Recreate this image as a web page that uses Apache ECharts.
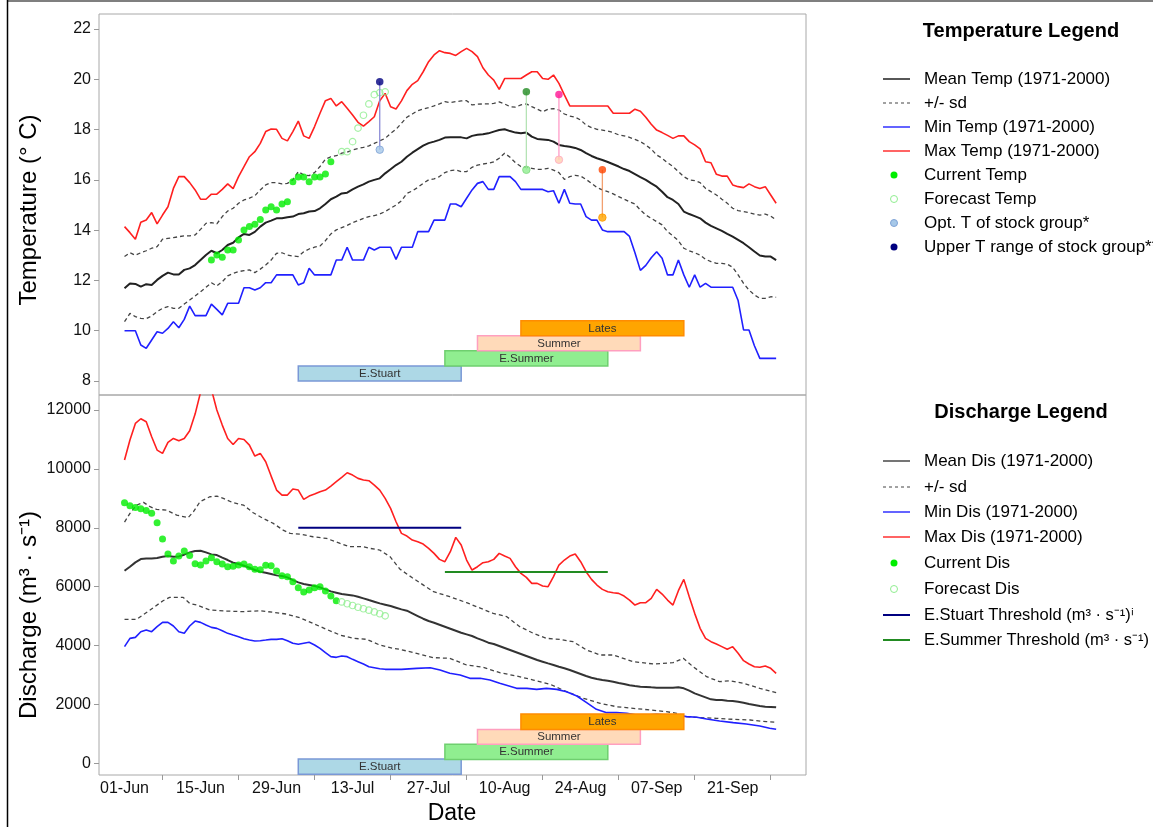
<!DOCTYPE html>
<html><head><meta charset="utf-8">
<script src="https://cdn.jsdelivr.net/npm/echarts@6/dist/echarts.min.js"></script>
<style>html,body{margin:0;padding:0;background:#fff}#c{width:1153px;height:827px}</style>
</head><body><div id="c"></div>
<script>
// ---------- axes / labels ----------
const dateLabels = ['01-Jun','15-Jun','29-Jun','13-Jul','27-Jul','10-Aug','24-Aug','07-Sep','21-Sep'];
const labelDays = [0,14,28,42,56,70,84,98,112];
const tickDays = [7,21,35,49,63,77,91,105,119];
const tempTicks = [8,10,12,14,16,18,20,22];
const disTicks = [0,2000,4000,6000,8000,10000,12000];

// ---------- temperature climatology (daily from 01-Jun, day 0..120) ----------
const tempMax = [14.14,13.90,13.64,14.31,14.40,14.70,14.25,14.60,14.93,15.66,16.13,16.13,15.89,15.60,15.23,15.23,15.43,15.43,15.62,15.84,15.65,16.13,16.53,16.92,17.12,17.45,17.92,18.02,18.01,17.65,17.55,17.92,18.34,17.75,17.65,18.12,18.65,19.15,19.24,18.94,19.11,18.85,18.58,18.29,18.14,18.32,18.51,19.15,19.44,18.91,18.82,19.14,
 19.55,19.8,19.95,20.3,20.7,20.97,21.14,21.06,21.03,20.95,21.1,21.23,21.1,20.9,20.46,20.17,19.97,19.6,20.03,20.03,20.03,20.03,20.17,20.3,20.3,20.03,20.0,20.17,19.84,19.38,18.94,18.94,18.94,18.94,18.94,18.94,18.94,18.94,18.65,18.65,18.65,18.65,18.81,18.73,18.49,18.21,17.98,17.88,17.77,17.65,17.75,17.75,17.52,17.39,17.23,16.72,16.68,16.22,16.15,16.15,15.8,15.73,15.69,15.84,15.73,15.66,15.73,15.40,15.07];
const tempMean = [11.69,11.88,11.86,11.75,11.85,11.82,12.02,12.18,12.31,12.24,12.24,12.42,12.48,12.61,12.81,13.01,13.18,13.08,13.21,13.41,13.50,13.71,13.85,13.81,13.93,14.14,14.30,14.38,14.47,14.47,14.51,14.54,14.64,14.67,14.74,14.76,14.87,15.04,15.23,15.33,15.46,15.49,15.62,15.73,15.82,15.93,16.00,16.06,16.26,16.42,16.59,16.72,
 16.92,17.08,17.22,17.36,17.46,17.52,17.59,17.68,17.69,17.69,17.69,17.65,17.75,17.79,17.81,17.85,17.92,17.98,18.01,17.94,17.88,17.85,17.88,17.72,17.63,17.61,17.59,17.52,17.39,17.35,17.32,17.27,17.19,17.06,16.95,16.86,16.79,16.71,16.62,16.53,16.43,16.35,16.23,16.11,16.00,15.86,15.73,15.53,15.31,15.20,15.04,14.74,14.64,14.56,14.47,14.30,14.17,14.07,13.97,13.85,13.74,13.61,13.48,13.32,13.15,12.99,12.95,12.95,12.81];
const tempUpper = [12.95,13.10,13.00,13.10,13.18,13.28,13.34,13.64,13.67,13.70,13.74,13.77,13.77,13.81,14.03,14.27,14.30,14.25,14.54,14.76,14.87,15.07,15.20,15.27,15.37,15.60,15.80,15.89,15.89,15.84,15.86,16.00,16.33,16.19,16.17,16.29,16.53,16.82,16.92,16.96,17.06,17.10,17.19,17.25,17.29,17.35,17.45,17.55,17.65,17.85,18.01,18.25,
 18.49,18.62,18.75,18.82,18.87,18.94,19.02,19.11,19.07,19.11,19.14,19.15,18.98,19.01,19.02,19.02,19.04,19.10,19.02,18.91,18.89,18.98,19.02,18.91,18.81,18.71,18.81,18.83,18.78,18.62,18.54,18.49,18.38,18.18,18.08,18.01,17.98,17.94,17.88,17.79,17.75,17.69,17.61,17.52,17.39,17.22,16.99,16.86,16.68,16.53,16.33,16.13,16.00,15.97,15.89,15.66,15.53,15.40,15.23,15.07,14.87,14.78,14.74,14.70,14.64,14.60,14.64,14.56,14.40];
const tempLower = [10.36,10.69,10.56,10.49,10.48,10.59,10.76,10.89,10.96,10.89,10.89,11.06,11.22,11.38,11.55,11.73,11.91,11.78,11.95,12.18,12.28,12.35,12.39,12.42,12.31,12.45,12.61,12.81,13.08,13.10,13.01,12.97,12.95,13.14,13.25,13.32,13.37,13.58,13.85,14.01,14.10,14.19,14.30,14.38,14.47,14.54,14.58,14.64,14.74,14.87,15.00,15.17,
 15.46,15.56,15.70,15.86,16.00,16.04,16.13,16.29,16.37,16.39,16.33,16.33,16.50,16.59,16.63,16.66,16.72,16.86,17.06,16.90,16.68,16.53,16.50,16.46,16.42,16.42,16.46,16.39,16.29,16.02,16.13,16.18,16.15,16.02,15.86,15.70,15.60,15.53,15.44,15.33,15.23,15.13,15.04,14.80,14.60,14.47,14.34,14.21,13.94,13.77,13.58,13.28,13.18,13.10,13.01,12.84,12.75,12.68,12.68,12.65,12.52,12.22,11.88,11.62,11.42,11.29,11.29,11.35,11.33];
const tempMin = [10.00,10.00,10.00,9.43,9.30,9.63,9.96,9.90,10.09,10.36,10.12,10.45,10.98,10.60,10.60,10.60,11.06,10.85,10.63,11.09,11.09,11.09,11.71,11.71,11.62,11.71,11.91,11.91,12.22,12.22,12.22,12.22,11.82,11.91,12.48,12.22,12.22,12.22,12.22,12.81,12.81,13.32,12.81,12.81,12.81,13.32,13.21,13.32,13.32,13.32,12.84,13.32,
 13.32,13.32,13.94,13.94,13.94,14.40,14.40,14.40,15.04,15.04,14.93,15.27,15.60,15.86,15.93,15.62,15.62,16.13,16.13,16.13,15.93,15.62,15.62,15.62,15.62,15.62,15.53,15.57,15.07,15.62,15.07,15.04,15.04,14.54,14.40,14.40,14.01,13.94,13.94,13.94,13.94,13.75,13.10,12.40,12.60,12.90,13.14,12.88,12.22,12.22,12.81,12.22,11.73,12.22,11.73,11.88,11.73,11.73,11.73,11.73,11.73,11.20,10.03,10.03,9.40,8.90,8.90,8.90,8.90];

// current / forecast temperature
const curTempStart = 16;
const curTemp = [12.81,13.01,12.92,13.21,13.21,13.61,14.01,14.14,14.23,14.42,14.80,14.93,14.80,15.04,15.13,15.92,16.11,16.11,15.92,16.11,16.11,16.23,16.72];
const fcTempStart = 40;
const fcTemp = [17.12,17.12,17.52,18.06,18.57,19.02,19.39,19.47,19.50];

// stock groups: name, run window (days), midpoint day, optimum T, upper T
const groups = ['E.Stuart','E.Summer','Summer','Lates'];
const groupStart = [32,59,65,73];
const groupEnd = [62,89,95,103];
const groupMid = [47,74,80,88];
const groupOptT = [17.2,16.4,16.8,14.5];
const groupUpperT = [19.9,19.5,19.4,16.4];
const tempBoxLo = [8.0,8.6,9.2,9.8];
const tempBoxHi = [8.6,9.2,9.8,10.4];
const disBoxLo = [-370,130,650,1150];
const disBoxHi = [150,650,1150,1675];

// ---------- discharge climatology ----------
const disMax = [10299,10978,11544,11703,11601,11092,10639,10525,10899,11034,10955,11034,11295,11861,12600,13100,12700,11997,11487,11034,10830,11034,11000,10808,10435,10525,10242,9755,9280,9110,9110,9314,9280,8963,9076,9144,9223,9280,9416,9563,9710,9869,9790,9677,9620,9597,9450,9280,8997,8658,8205,7809,
 7719,7583,7526,7447,7300,7130,6926,6847,7187,7673,7413,6904,6564,6677,6813,6847,6926,7130,7039,6960,6677,6451,6315,6111,6111,6021,5998,6338,6734,6904,7039,7107,6847,6507,6247,6054,5907,5828,5794,5772,5681,5545,5375,5455,5455,5602,5907,5749,5545,5375,5862,6247,5659,5093,4584,4245,4132,4052,3962,3871,3962,3735,3486,3373,3282,3260,3305,3225,3056];
const disMean = [6541,6677,6825,6938,6960,6960,6972,7017,7040,7017,7028,7085,7164,7209,7221,7164,7096,7073,6983,6904,6813,6767,6711,6643,6564,6507,6473,6428,6383,6360,6315,6224,6145,6088,6054,6020,5975,5907,5839,5794,5749,5726,5703,5658,5602,5545,5489,5432,5387,5342,5285,5228,
 5183,5093,5002,4911,4832,4776,4708,4640,4572,4504,4436,4380,4323,4244,4176,4097,4052,3984,3916,3848,3780,3712,3644,3576,3508,3452,3395,3339,3282,3226,3168,3100,3032,2964,2908,2863,2829,2806,2772,2727,2693,2648,2625,2603,2592,2580,2569,2569,2569,2569,2580,2546,2467,2377,2309,2241,2173,2150,2150,2128,2117,2094,2060,2015,1981,1947,1924,1913,1901];
const disUpper = [[0,8194],[1,8488],[2.2,8771],[3.5,8862],[4.7,8715],[5.9,8624],[7.7,8602],[9.6,8432],[11.7,8341],[12.7,8545],[13.9,8884],[15.7,9053],[17,9076],[18.2,8997],[20,8850],[21.9,8771],[23.7,8511],[25.5,8318],[27.4,8148],[29.2,7921],[30.5,7808],[32.3,7786],[34.7,7695],[37.2,7639],[39.7,7469],[41.5,7356],[44,7356],[45.2,7300],[47,7243],[48.9,7017],[50.7,6600],[53,6300],[56.9,5829],[59.9,5659],[63,5455],[67.9,5093],[70.4,4980],[72.8,4640],[75.3,4414],[77.7,4244],[80.2,4210],[82.6,4131],[85.1,3848],[87.6,3678],[90,3678],[93.7,3452],[97.4,3373],[101,3418],[102.9,3565],[104.7,3282],[107.2,2942],[109.6,2772],[111.5,2806],[114,2716],[117,2546],[120,2399]];
const disLower = [[0,4888],[2.2,4888],[4.7,5205],[7.1,5522],[8.3,5635],[10.8,5635],[12,5432],[13.3,5375],[15.7,5205],[18.8,5172],[21.9,5150],[24.9,5183],[27.4,5127],[29.8,5070],[32.3,4945],[34.7,4753],[37.2,4549],[39.7,4357],[42.1,4244],[44.6,4210],[47,4018],[49.5,3905],[50.7,3871],[53.8,3735],[56.9,3588],[59.9,3565],[63,3339],[66.1,3260],[69.1,3078],[72.2,2965],[75.3,2829],[78.4,2682],[81.4,2433],[84.5,2207],[87.6,2037],[90.6,1923],[93.7,1867],[96.8,1811],[99.8,1754],[101.7,1698],[103.5,1585],[106,1551],[109,1528],[112.1,1494],[115.2,1471],[118.2,1415],[120,1392]];
const disMinDaily = [3961,4244,4278,4470,4527,4470,4640,4787,4787,4663,4470,4414,4663,4832,4787,4697,4617,4583,4504,4414,4357,4301,4233,4187,4153,4165,4187,4210,4210,4233,4165,4075,4041,4075,4109,4018,3905,3758,3622,3599,3645,3622,3531,3452,3373,3282,3248,3214,3192,3192,3192,3192];
const disMinLate = [[53.8,3225],[56.3,3248],[58.1,3169],[59.9,3056],[61.8,3000],[63.6,2886],[65.5,2886],[67.3,2829],[69.1,2716],[72.2,2546],[74.1,2546],[75.9,2512],[77.7,2546],[79.6,2512],[81.4,2433],[83.3,2286],[85.1,2060],[86.9,1834],[88.8,1721],[90.6,1721],[92.5,1698],[94.3,1641],[96.1,1641],[98,1664],[99.8,1641],[101.7,1641],[103.5,1585],[105.4,1562],[107.2,1505],[109.6,1437],[112.1,1381],[114.5,1335],[117,1267],[118.8,1188],[120,1154]];

// current / forecast discharge
const curDisStart = 0;
const curDis = [8849,8747,8691,8646,8590,8489,8170,7616,7107,6869,7039,7209,7062,6778,6733,6869,6982,6846,6767,6676,6689,6733,6767,6676,6587,6574,6723,6710,6530,6370,6336,6166,5963,5817,5885,5963,5997,5851,5681,5522];
const fcDisStart = 40;
const fcDis = [5480,5420,5360,5300,5250,5200,5140,5080,5010];

// thresholds (m3/s) for E.Stuart and E.Summer, over their run windows
const thrStuart = 8000;
const thrESummer = 6500;

// ---------- styles ----------
const FONT = 'Liberation Sans, Arial, Helvetica, sans-serif';
const boxFill = ['#add8e6','#90ee90','#ffdab9','#ffa500'];
const boxStroke = ['#7a98d6','#6fcf6f','#ff9fbf','#ff8c00'];
const upperCol = ['#000080','#228b22','#ff1493','#ff4500'];
const optCol = ['#a6c8e8','#90ee90','#ffd0b0','#ffa500'];
const optBorder = ['#7fa3d6','#7fd87f','#ffa8c0','#ff9a00'];
const stemCol = ['#8a8ad6','#b5e3b5','#ff9cc8','#f2a070'];

const daily = (arr, start) => arr.map((v, i) => [start + i, v]);

const series = [];
function lineS(data, xi, color, width, dashed) {
  series.push({type:'line', xAxisIndex:xi, yAxisIndex:xi, data, showSymbol:false, symbol:'none',
    silent:true, animation:false, clip:true, z:2,
    lineStyle:{color, width, type: dashed ? [4,3] : 'solid'}});
}
// temperature lines
lineS(daily(tempUpper,0),0,'#444',1.3,true);
lineS(daily(tempLower,0),0,'#444',1.3,true);
lineS(daily(tempMin,0),0,'#2020ff',1.6,false);
lineS(daily(tempMax,0),0,'#ff2020',1.6,false);
lineS(daily(tempMean,0),0,'#222',2,false);
// discharge lines
lineS(disUpper,1,'#444',1.3,true);
lineS(disLower,1,'#444',1.3,true);
lineS(daily(disMinDaily,0).concat(disMinLate),1,'#2020ff',1.6,false);
lineS(daily(disMax,0),1,'#ff2020',1.6,false);
lineS(daily(disMean,0),1,'#333',2,false);
// thresholds
series.push({type:'line', xAxisIndex:1, yAxisIndex:1, symbol:'none', silent:true, animation:false, z:3,
  data:[[groupStart[0],thrStuart],[groupEnd[0],thrStuart]], lineStyle:{color:'#000080', width:2}});
series.push({type:'line', xAxisIndex:1, yAxisIndex:1, symbol:'none', silent:true, animation:false, z:3,
  data:[[groupStart[1],thrESummer],[groupEnd[1],thrESummer]], lineStyle:{color:'#228b22', width:2}});

// current / forecast points
series.push({type:'scatter', xAxisIndex:0, yAxisIndex:0, data:daily(curTemp,curTempStart), symbol:'circle', symbolSize:7,
  itemStyle:{color:'#00ee00'}, silent:true, animation:false, z:5});
series.push({type:'scatter', xAxisIndex:0, yAxisIndex:0, data:daily(fcTemp,fcTempStart), symbol:'circle', symbolSize:6.5,
  itemStyle:{color:'rgba(255,255,255,0)', borderColor:'#90ee90', borderWidth:1.2}, silent:true, animation:false, z:5});
series.push({type:'scatter', xAxisIndex:1, yAxisIndex:1, data:daily(curDis,curDisStart), symbol:'circle', symbolSize:7,
  itemStyle:{color:'#00ee00'}, silent:true, animation:false, z:5});
series.push({type:'scatter', xAxisIndex:1, yAxisIndex:1, data:daily(fcDis,fcDisStart), symbol:'circle', symbolSize:6.5,
  itemStyle:{color:'rgba(255,255,255,0)', borderColor:'#90ee90', borderWidth:1.2}, silent:true, animation:false, z:5});

// stock group optimum / upper temperature stems
groups.forEach((g, i) => {
  series.push({type:'line', xAxisIndex:0, yAxisIndex:0, symbol:'none', silent:true, animation:false, z:6,
    data:[[groupMid[i],groupOptT[i]],[groupMid[i],groupUpperT[i]]], lineStyle:{color:stemCol[i], width:1.3}});
  series.push({type:'scatter', xAxisIndex:0, yAxisIndex:0, symbolSize:7.5, silent:true, animation:false, z:7,
    data:[{value:[groupMid[i],groupOptT[i]], itemStyle:{color:optCol[i], borderColor:optBorder[i], borderWidth:1}},
          {value:[groupMid[i],groupUpperT[i]], itemStyle:{color:upperCol[i]}}]});
});

// run-timing boxes
function boxSeries(xi, lo, hi) {
  return {type:'custom', xAxisIndex:xi, yAxisIndex:xi, silent:true, animation:false, z:8, clip:true,
    data: groups.map((g, i) => [groupStart[i], groupEnd[i], lo[i], hi[i]]),
    encode:{x:[0,1], y:[2,3]},
    renderItem:(params, api) => {
      const i = params.dataIndex;
      const p0 = api.coord([api.value(0), api.value(3)]);
      const p1 = api.coord([api.value(1), api.value(2)]);
      return {type:'group', children:[
        {type:'rect', shape:{x:p0[0], y:p0[1], width:p1[0]-p0[0], height:p1[1]-p0[1]},
          style:{fill:boxFill[i], stroke:boxStroke[i], lineWidth:1.5}},
        {type:'text', style:{text:groups[i], x:(p0[0]+p1[0])/2, y:(p0[1]+p1[1])/2+0.5, align:'center', verticalAlign:'middle',
          fontSize:11.5, fontFamily:FONT, fill:'#333'}}
      ]};
    }};
}
series.push(boxSeries(0, tempBoxLo, tempBoxHi));
series.push(boxSeries(1, disBoxLo, disBoxHi));

// ---------- legends (drawn as graphic) ----------
const graphic = [];
function legendBlock(title, titleY, rows, entries) {
  graphic.push({type:'text', x:1021, y:titleY, style:{text:title, font:'bold 20px '+FONT, fill:'#000', align:'center', verticalAlign:'middle'}});
  entries.forEach((e, i) => {
    const y = rows[i];
    if (e.kind === 'line') {
      graphic.push({type:'line', shape:{x1:883, y1:y, x2:910, y2:y},
        style:{stroke:e.color, lineWidth:e.w || 1.5, lineDash: e.dash ? [3,3] : null}});
    } else {
      graphic.push({type:'circle', shape:{cx:894, cy:y, r:3.5},
        style:{fill:e.fill, stroke:e.stroke || null, lineWidth:1}});
    }
    graphic.push({type:'text', x:924, y:y, style:{text:e.text, font:(e.size || 17)+'px '+FONT, fill:'#000', verticalAlign:'middle'}});
  });
}
legendBlock('Temperature Legend', 31, [79,103,127,151,175,199,223,247], [
  {kind:'line', color:'#444', w:1.8, text:'Mean Temp (1971-2000)'},
  {kind:'line', color:'#444', w:1, dash:true, text:'+/- sd'},
  {kind:'line', color:'#3030ff', text:'Min Temp (1971-2000)'},
  {kind:'line', color:'#ff3030', text:'Max Temp (1971-2000)'},
  {kind:'dot', fill:'#00ee00', text:'Current Temp'},
  {kind:'dot', fill:'#fff', stroke:'#90ee90', text:'Forecast Temp'},
  {kind:'dot', fill:'#a6c8e8', stroke:'#7fa3d6', text:'Opt. T of stock group*'},
  {kind:'dot', fill:'#000080', text:'Upper T range of stock group**'}
]);
legendBlock('Discharge Legend', 412, [461,487,512,537,563,589,615,640], [
  {kind:'line', color:'#666', w:1.8, text:'Mean Dis (1971-2000)'},
  {kind:'line', color:'#444', w:1, dash:true, text:'+/- sd'},
  {kind:'line', color:'#3030ff', text:'Min Dis (1971-2000)'},
  {kind:'line', color:'#ff3030', text:'Max Dis (1971-2000)'},
  {kind:'dot', fill:'#00ee00', text:'Current Dis'},
  {kind:'dot', fill:'#fff', stroke:'#90ee90', text:'Forecast Dis'},
  {kind:'line', color:'#000080', w:2, size:16.5, text:'E.Stuart Threshold (m³ · s⁻¹)ⁱ'},
  {kind:'line', color:'#228b22', w:2, size:16.5, text:'E.Summer Threshold (m³ · s⁻¹)'}
]);
// axis titles
graphic.push({type:'text', x:29, y:210, rotation:Math.PI/2, style:{text:'Temperature (° C)', font:'24px '+FONT, fill:'#000', align:'center', verticalAlign:'middle'}});
graphic.push({type:'text', x:29, y:615, rotation:Math.PI/2, style:{text:'Discharge (m³ · s⁻¹)', font:'24px '+FONT, fill:'#000', align:'center', verticalAlign:'middle'}});
graphic.push({type:'text', x:452, y:814, style:{text:'Date', font:'23px '+FONT, fill:'#000', align:'center', verticalAlign:'middle'}});
// outer page frame lines
graphic.push({type:'line', shape:{x1:7.5, y1:0, x2:7.5, y2:827}, style:{stroke:'#000', lineWidth:1.5}});
graphic.push({type:'line', shape:{x1:7.5, y1:1, x2:1153, y2:1}, style:{stroke:'#000', lineWidth:1.2}});

const X_MIN = -4.7, X_MAX = 125.5;
const numFmt = (v) => String(Math.round(v));
const chart = echarts.init(document.getElementById('c'), null, {renderer:'canvas'});
chart.setOption({
  animation:false,
  backgroundColor:'#fff',
  textStyle:{fontFamily:FONT},
  grid:[
    {left:99, top:14, width:707, height:381, show:true, borderColor:'#a8a8a8', borderWidth:1, backgroundColor:'transparent'},
    {left:99, top:395, width:707, height:380, show:true, borderColor:'#a8a8a8', borderWidth:1, backgroundColor:'transparent'}
  ],
  xAxis:[
    {type:'value', gridIndex:0, min:X_MIN, max:X_MAX, position:'bottom', axisLine:{show:false, onZero:false}, axisTick:{show:false}, axisLabel:{show:false}, splitLine:{show:false}},
    {type:'value', gridIndex:1, min:X_MIN, max:X_MAX, position:'bottom', axisLine:{show:false, onZero:false}, splitLine:{show:false},
      axisTick:{show:true, customValues:tickDays, length:5, lineStyle:{color:'#999'}},
      axisLabel:{show:true, customValues:labelDays, margin:6, fontSize:16, color:'#111', fontFamily:FONT,
        formatter:(v) => { const k = labelDays.indexOf(Math.round(v)); return k >= 0 ? dateLabels[k] : ''; }}}
  ],
  yAxis:[
    {type:'value', gridIndex:0, min:7.443, max:22.597, position:'left', axisLine:{show:false, onZero:false}, splitLine:{show:false},
      axisTick:{show:true, customValues:tempTicks, length:5, lineStyle:{color:'#999'}},
      axisLabel:{customValues:tempTicks, margin:8, fontSize:16, color:'#111', fontFamily:FONT, formatter:numFmt}},
    {type:'value', gridIndex:1, min:-397, max:12509, position:'left', axisLine:{show:false, onZero:false}, splitLine:{show:false},
      axisTick:{show:true, customValues:disTicks, length:5, lineStyle:{color:'#999'}},
      axisLabel:{customValues:disTicks, margin:8, fontSize:16, color:'#111', fontFamily:FONT, formatter:numFmt}}
  ],
  series,
  graphic
});
</script></body></html>
